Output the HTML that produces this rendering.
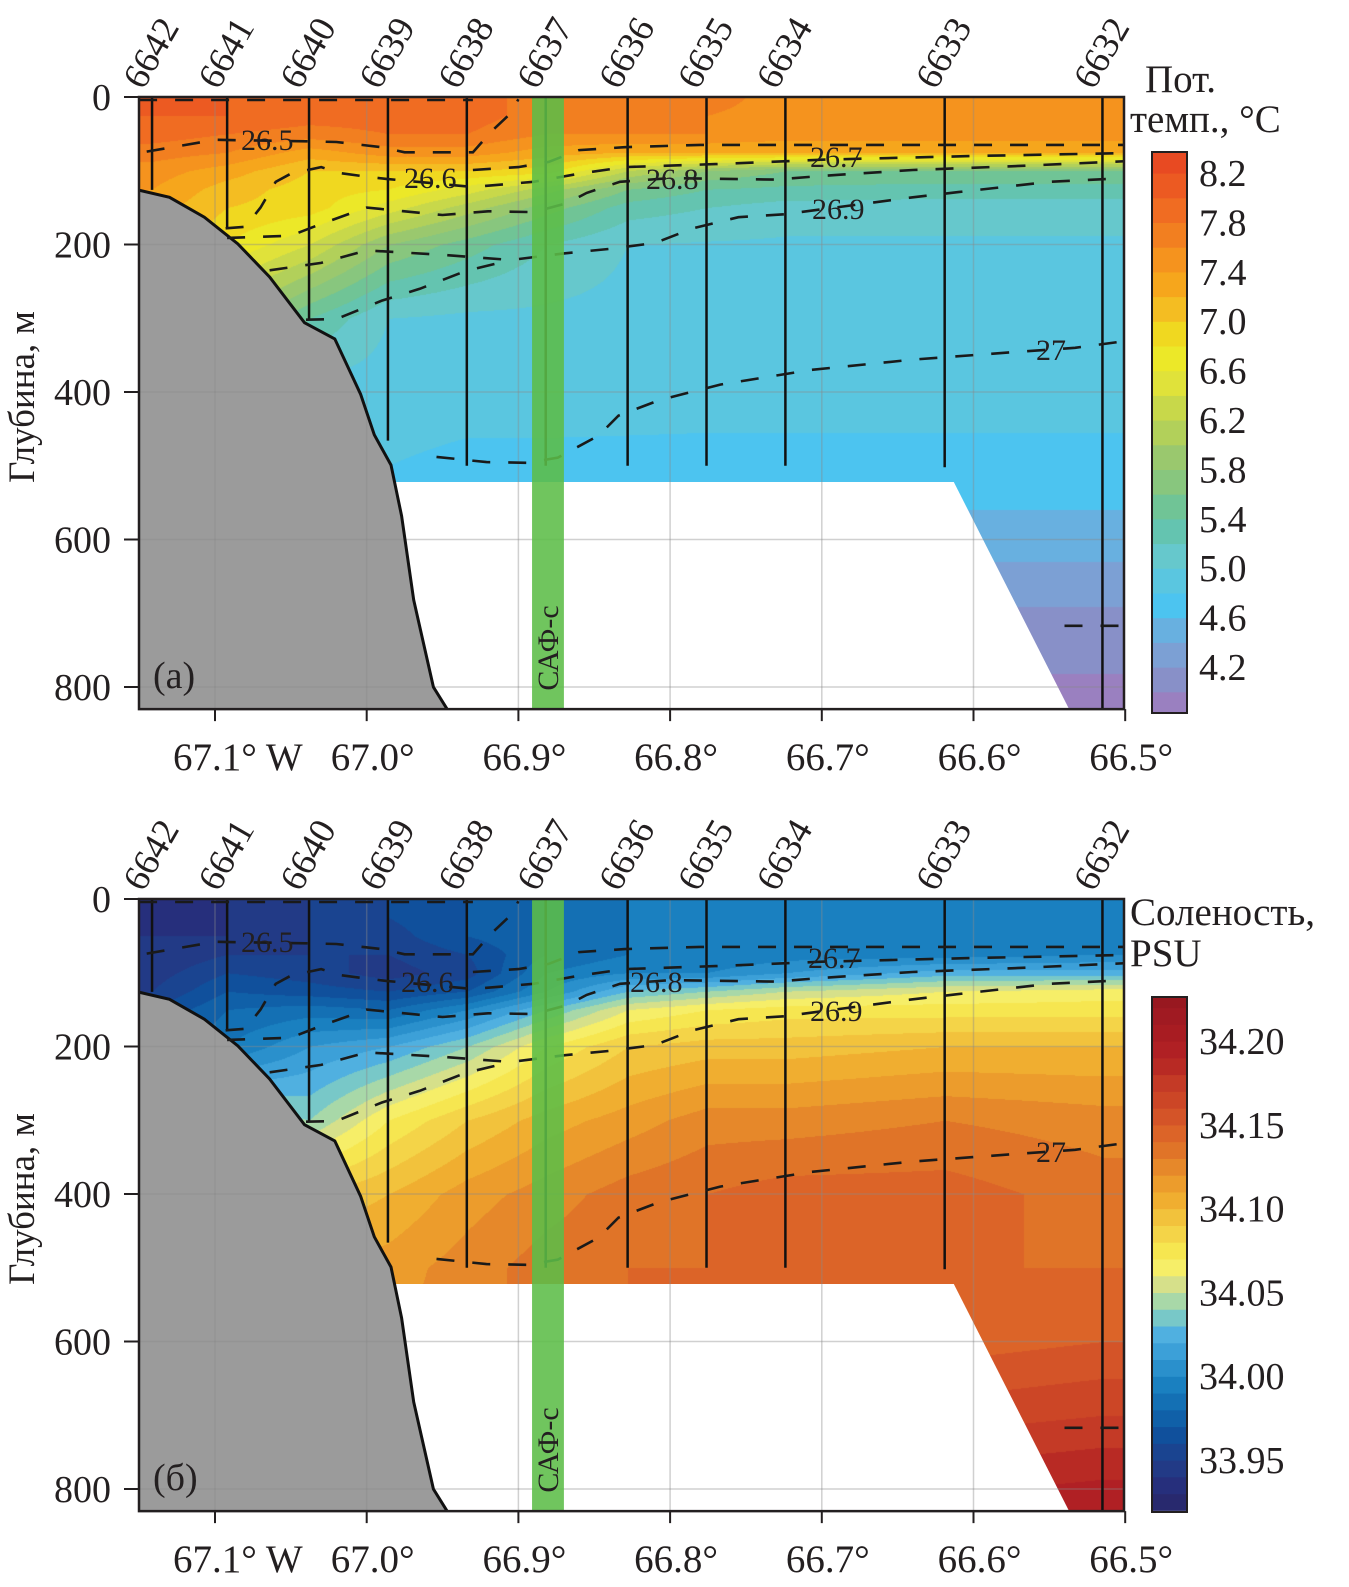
<!DOCTYPE html>
<html><head><meta charset="utf-8">
<style>
html,body{margin:0;padding:0;background:#fff;}
body{width:1349px;height:1587px;position:relative;overflow:hidden;font-family:"Liberation Serif","Noto Serif CJK SC",serif;}
canvas{position:absolute;left:0;top:0;}
svg{position:absolute;left:0;top:0;}
text{font-family:"Liberation Serif","Noto Serif CJK SC",serif;fill:#231f20;}
</style></head>
<body>
<canvas id="fld" width="1349" height="1587"></canvas>
<svg id="svg" width="1349" height="1587" viewBox="0 0 1349 1587" xmlns="http://www.w3.org/2000/svg"></svg>
<script>
// ---- data ----
const STATIONS = ['6642','6641','6640','6639','6638','6637','6636','6635','6634','6633','6632'];
const STN_LON = [67.1415,67.092,67.038,66.986,66.934,66.882,66.828,66.776,66.724,66.619,66.515];
const STN_BOTTOM = [126,178,302,466,500,500,500,500,500,502,830];
const DEPTHS = [0,25,50,75,100,125,150,200,300,400,500,600,700,830];
const TEMP = [
 [8.1,8.0,7.9,7.7,7.5,7.4,7.3,7.2,7.0,6.0,5.0,4.8,4.6,4.4],
 [8.0,8.0,7.8,7.6,7.3,7.1,7.0,6.8,6.0,5.0,4.8,4.6,4.4,4.2],
 [8.0,7.9,7.7,7.3,7.0,6.9,6.9,6.4,5.4,4.9,4.8,4.6,4.4,4.2],
 [7.9,7.9,7.8,7.5,7.0,6.8,6.5,5.8,5.0,4.9,4.8,4.6,4.4,4.2],
 [7.9,7.9,7.8,7.5,7.0,6.5,6.1,5.5,4.95,4.88,4.75,4.6,4.4,4.2],
 [7.7,7.7,7.6,7.3,6.9,6.1,5.7,5.2,4.95,4.88,4.75,4.6,4.4,4.2],
 [7.7,7.7,7.6,7.2,6.2,5.6,5.3,5.0,4.93,4.87,4.75,4.6,4.4,4.2],
 [7.7,7.6,7.6,7.2,5.8,5.4,5.2,4.98,4.92,4.86,4.75,4.6,4.4,4.2],
 [7.5,7.5,7.5,7.2,5.6,5.35,5.1,4.97,4.92,4.86,4.75,4.6,4.4,4.2],
 [7.5,7.5,7.5,7.2,5.6,5.3,5.1,4.97,4.92,4.86,4.75,4.5,4.17,3.9],
 [7.5,7.5,7.5,7.2,5.6,5.3,5.1,4.97,4.92,4.86,4.75,4.5,4.17,3.9]
];
const SAL = [
 [33.935,33.935,33.94,33.94,33.945,33.95,33.96,33.97,34.0,34.05,34.1,34.12,34.14,34.15],
 [33.94,33.94,33.94,33.95,33.96,33.97,33.98,33.99,34.05,34.1,34.12,34.13,34.14,34.15],
 [33.95,33.95,33.95,33.95,33.955,33.965,33.985,34.01,34.04,34.09,34.11,34.12,34.13,34.14],
 [33.96,33.96,33.955,33.95,33.945,33.96,33.98,34.02,34.07,34.10,34.115,34.12,34.13,34.14],
 [33.97,33.97,33.97,33.96,33.955,33.97,34.0,34.04,34.09,34.115,34.125,34.125,34.13,34.14],
 [33.98,33.98,33.98,33.98,33.99,34.0,34.03,34.07,34.105,34.125,34.135,34.135,34.14,34.15],
 [33.99,33.99,33.99,33.99,34.0,34.03,34.06,34.09,34.115,34.135,34.14,34.14,34.15,34.16],
 [33.995,33.995,33.995,33.99,34.0,34.04,34.07,34.095,34.125,34.14,34.14,34.145,34.16,34.17],
 [33.995,33.995,33.995,33.995,34.01,34.05,34.075,34.095,34.125,34.145,34.145,34.15,34.16,34.18],
 [33.99,33.995,33.995,33.995,34.025,34.06,34.075,34.1,34.13,34.145,34.14,34.145,34.165,34.195],
 [33.995,33.995,33.995,34.0,34.025,34.065,34.075,34.1,34.125,34.135,34.14,34.15,34.17,34.2]
];
const T_MIN = 3.8, T_STEP = 0.2;
const T_COLORS = ['#9a80c0','#8890c8','#7ca0d4','#68b0e0','#4cc4f0','#5ac6e0','#66c8cc','#64c4b0','#70c496','#88c67e','#9ac86e','#b2d05a','#c8d84a','#e0e23a','#ece828','#f0d820','#f4bd22','#f6a61c','#f5931e','#f27f20','#f06c22','#ec5a22','#e84a22'];
const T_TICKS = [8.2,7.8,7.4,7.0,6.6,6.2,5.8,5.4,5.0,4.6,4.2];
const S_MIN = 33.92, S_STEP = 0.01;
const S_COLORS = ['#28296e','#262f7c','#223a86','#1a4490','#10509c','#1060a8','#1470b4','#1a80c0','#2a90cc','#3ca0d8','#50b0e0','#78c8c8','#a8d8a8','#d6e08a','#f6ee68','#f6e650','#f4d448','#f2c23c','#f0ae30','#ec9c2c','#e6882a','#e07428','#dc6428','#d45428','#cc4626','#c43a26','#b82a24','#b02024','#a81c22','#a01a22','#981820'];
const S_TICKS = [34.20,34.15,34.10,34.05,34.00,33.95];
const LON_TICKS = [67.1,67.0,66.9,66.8,66.7,66.6,66.5];
const LON_LABELS = ['67.1° W','67.0°','66.9°','66.8°','66.7°','66.6°','66.5°'];
const DEPTH_TICKS = [0,200,400,600,800];
const BATHY = [[67.151,126],[67.13,136],[67.107,163],[67.085,199],[67.064,244],[67.041,306],[67.021,328],[67.004,403],[66.995,458],[66.984,499],[66.977,568],[66.969,682],[66.956,800],[66.947,830]];
const NODATA = [[66.99,522],[66.613,522],[66.537,830],[66.99,830]];
const SAF = [66.891,66.870];
const ISO_TOP = [[67.15,4],[66.93,4]];
const ISO_265 = [[67.145,74],[67.10,58],[67.04,60],[67.02,61],[66.99,68],[66.975,75],[66.93,75],[66.918,47],[66.905,22],[66.90,3]];
const ISO_266 = [[67.093,178],[67.08,176],[67.07,150],[67.06,115],[67.05,104],[67.03,95],[67.018,103],[67.0,108],[66.987,111],[66.93,122],[66.89,115],[66.86,104],[66.83,95],[66.77,91],[66.70,85],[66.6,80],[66.5,76]];
const ISO_267 = [[66.93,99],[66.90,95],[66.88,88],[66.86,72],[66.83,68],[66.78,65],[66.5,65]];
const ISO_268 = [[67.092,191],[67.05,188],[67.03,172],[67.0,150],[66.95,160],[66.92,155],[66.89,156],[66.868,144],[66.855,130],[66.833,115],[66.80,110],[66.73,112],[66.70,107],[66.64,99],[66.575,94],[66.5,87]];
const ISO_269 = [[67.064,235],[67.03,225],[67.0,208],[66.95,214],[66.905,221],[66.87,212],[66.84,206],[66.81,198],[66.785,178],[66.755,163],[66.725,159],[66.64,136],[66.61,129],[66.58,122],[66.55,115],[66.5,110]];
const ISO_269B = [[67.04,302],[67.02,301],[66.99,276],[66.965,260],[66.935,236],[66.905,221]];
const ISO_27 = [[66.954,488],[66.921,495],[66.894,496],[66.874,489],[66.847,459],[66.834,432],[66.807,411],[66.767,390],[66.707,370],[66.64,356],[66.574,346],[66.533,340],[66.5,331]];
const ISO_DEEP = [[66.54,717],[66.5,717]];
const ISOLINES = [ISO_TOP,ISO_265,ISO_266,ISO_267,ISO_268,ISO_269,ISO_269B,ISO_27,ISO_DEEP];

// ---- geometry ----
const X0 = 139, X1 = 1124;
const PANELS = [{top:97, label:'(a)', grid:TEMP, kind:'t'},{top:899, label:'(б)', grid:SAL, kind:'s'}];
const DSCALE = 0.7375, DMAX = 830;
function xL(lon){ return 215 + (67.1 - lon) * 1517; }
function lonX(x){ return 67.1 - (x - 215) / 1517; }
function yD(top, d){ return top + d * DSCALE; }

function interp(grid, lon, d){
  const L = STN_LON; let j = 0;
  if (lon >= L[0]) { j = 0; } else if (lon <= L[L.length-1]) { j = L.length - 2; }
  else { while (j < L.length - 2 && lon < L[j+1]) j++; }
  let t = (L[j] - lon) / (L[j] - L[j+1]); t = Math.max(0, Math.min(1, t));
  let k = 0; while (k < DEPTHS.length - 2 && d > DEPTHS[k+1]) k++;
  let u = (d - DEPTHS[k]) / (DEPTHS[k+1] - DEPTHS[k]); u = Math.max(0, Math.min(1, u));
  const a = grid[j][k]*(1-u) + grid[j][k+1]*u;
  const b = grid[j+1][k]*(1-u) + grid[j+1][k+1]*u;
  return a*(1-t) + b*t;
}
function hex(c){ return [parseInt(c.substr(1,2),16),parseInt(c.substr(3,2),16),parseInt(c.substr(5,2),16)]; }
const T_RGB = T_COLORS.map(hex), S_RGB = S_COLORS.map(hex);
function colorFor(kind, v){
  if (kind === 't') { let i = Math.floor((v - T_MIN)/T_STEP); i = Math.max(0, Math.min(T_RGB.length-1, i)); return T_RGB[i]; }
  let i = Math.floor((v - S_MIN)/S_STEP + 1e-9); i = Math.max(0, Math.min(S_RGB.length-1, i)); return S_RGB[i];
}

// ---- draw fields ----
const cv = document.getElementById('fld'); const ctx = cv.getContext('2d');
PANELS.forEach(p => {
  const h = Math.round(DMAX*DSCALE), w = X1 - X0;
  const img = ctx.createImageData(w, h);
  for (let yy = 0; yy < h; yy++) {
    const d = yy / DSCALE;
    for (let xx = 0; xx < w; xx++) {
      const lon = lonX(X0 + xx);
      const c = colorFor(p.kind, interp(p.grid, lon, d));
      const o = (yy*w + xx)*4; img.data[o]=c[0]; img.data[o+1]=c[1]; img.data[o+2]=c[2]; img.data[o+3]=255;
    }
  }
  ctx.putImageData(img, X0, p.top);
});

// ---- svg overlay ----
const NS = 'http://www.w3.org/2000/svg';
const svg = document.getElementById('svg');
function mk(tag, attrs, parent){ const e = document.createElementNS(NS, tag); for (const k in attrs) e.setAttribute(k, attrs[k]); (parent||svg).appendChild(e); return e; }
function pts(top, arr){ return arr.map(p => xL(p[0]).toFixed(1)+','+yD(top,p[1]).toFixed(1)).join(' '); }

PANELS.forEach((p, pi) => {
  const top = p.top, bot = yD(top, DMAX);
  const g = mk('g', {});
  
  
  const clipId = 'clip'+pi;
  const cp = mk('clipPath', {id:clipId}, g); mk('rect', {x:X0, y:top, width:X1-X0, height:bot-top}, cp);
  const inner = mk('g', {'clip-path':'url(#'+clipId+')'}, g);

  const nd = mk('polygon', {points:pts(top, NODATA), fill:'#fff'}, inner);
  
  
  const bathyPts = [[67.2,DMAX+10]].concat(BATHY).concat([[66.947,DMAX+10]]);
  const bf = mk('polygon', {points:pts(top, bathyPts), fill:'#9b9b9b'}, inner);
  
  
  LON_TICKS.forEach(l => { const gl = mk('line', {x1:xL(l), x2:xL(l), y1:top, y2:bot, stroke:'#8a8a8a', 'stroke-opacity':0.4, 'stroke-width':1.5}, inner);
      });
  DEPTH_TICKS.forEach(d => { const gl = mk('line', {x1:X0, x2:X1, y1:yD(top,d), y2:yD(top,d), stroke:'#8a8a8a', 'stroke-opacity':0.4, 'stroke-width':1.5}, inner);
      });
  const bo = mk('polyline', {points:pts(top, BATHY), fill:'none', stroke:'#111', 'stroke-width':3}, inner);
  
  
  STN_LON.forEach((l, i) => {
    const sl = mk('line', {x1:xL(l), x2:xL(l), y1:top, y2:yD(top, STN_BOTTOM[i]), stroke:'#111', 'stroke-width':2.5}, inner);
    
    
  });
  ISOLINES.forEach(arr => {
    const il = mk('polyline', {points:pts(top, arr), fill:'none', stroke:'#1a1a1a', 'stroke-width':2.6, 'stroke-dasharray':'18 18'}, inner);
    
    
  });
  const band = mk('rect', {x:xL(SAF[0]), y:top, width:xL(SAF[1])-xL(SAF[0]), height:bot-top, fill:'#5cbd48', 'fill-opacity':0.88}, inner);
  
  
  const cxb = (xL(SAF[0])+xL(SAF[1]))/2, cyb = pi===0 ? 648 : 1450;
  const st = mk('text', {x:cxb+10, y:cyb, 'font-size':30, 'text-anchor':'middle', transform:'rotate(-90 '+(cxb+10)+' '+cyb+')'}, g);
  st.textContent = 'САФ-с';
  
  
  const fr = mk('rect', {x:X0, y:top, width:X1-X0, height:bot-top, fill:'none', stroke:'#231f20', 'stroke-width':2.5}, g);
  
  
  DEPTH_TICKS.forEach(d => {
    const y = yD(top, d);
    const tk = mk('line', {x1:124, x2:X0, y1:y, y2:y, stroke:'#231f20', 'stroke-width':2}, g);
     
    const tl = mk('text', {x:111, y:y+13, 'font-size':38, 'text-anchor':'end'}, g);
    tl.textContent = String(d);
     
  });
  LON_TICKS.forEach((l, i) => {
    const x = xL(l);
    const tk = mk('line', {x1:x, x2:x, y1:bot, y2:bot+12, stroke:'#231f20', 'stroke-width':2}, g);
     
    const tl = i === 0 ? mk('text', {x:173, y:bot+61, 'font-size':39}, g) : mk('text', {x:x+6, y:bot+61, 'font-size':39, 'text-anchor':'middle'}, g);
    tl.textContent = LON_LABELS[i];
     
  });
  STN_LON.forEach((l, i) => {
    const x = xL(l) - 9, y = top - 6;
    const sl = mk('text', {x:x, y:y, 'font-size':37, transform:'rotate(-60 '+x+' '+y+')'}, g);
    sl.textContent = STATIONS[i];
    
    
  });
  const cy = top + 300;
  const yt = mk('text', {x:34, y:cy, 'font-size':37, 'text-anchor':'middle', transform:'rotate(-90 34 '+cy+')'}, g);
  yt.textContent = 'Глубина, м';
  
  
  const pl = mk('text', {x:153, y:top+591, 'font-size':38}, g);
  pl.textContent = p.label;
  
  
  const labs = pi===0
    ? [['26.5',241,150],['26.6',404,188],['26.8',646,189],['26.7',810,167],['26.9',812,219],['27',1036,360]]
    : [['26.5',241,952],['26.6',401,992],['26.8',630,992],['26.7',808,968],['26.9',810,1021],['27',1036,1162]];
  labs.forEach(a => {
    const t = mk('text', {x:a[1], y:a[2], 'font-size':30}, g);
    t.textContent = a[0];
    
    
  });
});

function colorbar(yTop, yBot, yOf, vMin, step, colors, ticks, fmt, name){
  const g = mk('g', {});
  
  
  const cp = mk('clipPath', {id:'c'+name}, g); mk('rect', {x:1152, y:yTop, width:35, height:yBot-yTop}, cp);
  const inner = mk('g', {'clip-path':'url(#c'+name+')'}, g);
  colors.forEach((c, i) => {
    const y1 = yOf(vMin + (i+1)*step), y2 = yOf(vMin + i*step);
    const r = mk('rect', {x:1152, y:y1, width:35, height:y2-y1+0.6, fill:c}, inner);
    
    
  });
  const b = mk('rect', {x:1152, y:yTop, width:35, height:yBot-yTop, fill:'none', stroke:'#231f20', 'stroke-width':2}, g);
   
  ticks.forEach(v => {
    const t = mk('text', {x:1199, y:yOf(v)+13, 'font-size':38}, g);
    t.textContent = fmt(v);
    
    
  });
}
colorbar(152, 713, v => 173 + (8.2 - v)*123.5, T_MIN, T_STEP, T_COLORS, T_TICKS, v => v.toFixed(1), 'temperature-colorbar');
colorbar(997, 1512, v => 1041 + (34.20 - v)*1676, S_MIN, S_STEP, S_COLORS, S_TICKS, v => v.toFixed(2), 'salinity-colorbar');

[['Пот.',1145,92],['темп., °C',1130,132],['Соленость,',1130,925],['PSU',1130,966]].forEach((a,i) => {
  const t = mk('text', {x:a[1], y:a[2], 'font-size':39}, svg);
  t.textContent = a[0];
  
  
});
</script>
</body></html>
